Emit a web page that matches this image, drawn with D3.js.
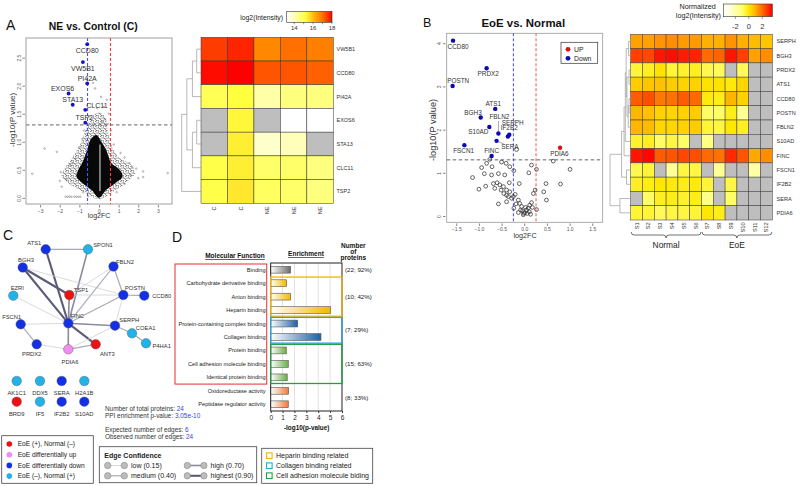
<!DOCTYPE html>
<html><head><meta charset="utf-8">
<script src="https://cdn.jsdelivr.net/npm/d3@7/dist/d3.min.js"></script>
<style>html,body{margin:0;padding:0;background:#fff;}svg{display:block;}</style>
</head><body>
<svg id="fig" width="800" height="486"></svg>
<script>
// ======================= DATA =======================
// Panel A volcano (NE vs. Control)
const volcanoAXTicks = [-3,-2,-1,0,1,2,3];
const volcanoAYTicks = [0,0.5,1,1.5,2,2.5];
const volcanoAGenes = ["CCD80","VW5B1","PI42A","EXOS6","STA13","CLC11","TSP2"];
const volcanoAFC    = [-0.60,-0.82,-0.60,-1.55,-1.34,-0.70,-0.70];
const volcanoAP     = [2.74,2.42,2.04,1.86,1.66,1.57,1.34];
const volcanoACore  = [[0,0],[0.36,0.14],[0.82,0.26],[1.2,0.38],[1.05,0.5],[0.62,0.62],[0.48,0.74],[0.36,0.86],[0.12,1.0],[-0.15,1.12],[-0.46,1.02],[-0.59,0.86],[-0.72,0.74],[-0.86,0.62],[-1.05,0.5],[-1.15,0.38],[-0.84,0.26],[-0.37,0.14]];
const volcanoAHalo  = [[0,-0.03],[0.6,0.08],[1.4,0.28],[1.85,0.45],[1.6,0.6],[1.0,0.72],[0.62,0.95],[0.45,1.2],[0.3,1.45],[0.0,1.52],[-0.35,1.45],[-0.6,1.28],[-0.9,1.0],[-1.3,0.75],[-1.7,0.55],[-1.9,0.38],[-1.3,0.2],[-0.6,0.07]];
const volcanoAOther = [[-3.4,0.43],[-2.78,0.88],[-2.15,0.82],[-1.95,0.46],[-1.65,0.34],[-1.5,0.58],[-1.35,0.62],[-1.2,0.7],[-1.0,0.9],[-0.85,1.05],[-0.75,1.2],[-0.5,1.45],[-0.3,2.05],[-0.2,1.95],[0.25,1.62],[0.4,1.75],[0.5,1.5],[0.3,1.4],[0.15,1.35],[0.45,1.32],[-0.1,1.6],[0.1,1.8],[0.6,1.2],[0.75,0.95],[1.1,0.8],[1.3,0.72],[1.55,0.62],[1.7,0.55],[1.9,0.52],[2.25,0.47],[2.25,0.37],[3.5,0.44],[1.6,0.4],[-1.7,0.02],[-1.6,0.02],[-1.5,0.02],[-1.4,0.02],[-1.25,0.02],[-1.15,0.02],[-1.05,0.02],[-0.95,0.02],[-0.55,0.03],[-0.8,0.1],[-1.9,0.2],[1.3,0.25],[0.9,0.1],[-2.0,0.3],[2.0,0.35]];
const volcanoACutFC = 0.585, volcanoACutP = 1.3;

// Panel A heatmap
const heatARows = ["VW5B1","CCD80","PI42A","EXOS6","STA13","CLC11","TSP2"];
const heatACols = ["C","C","NE","NE","NE"];
const heatAValues = [
  [17.5,17.7,16.7,17.0,16.8],
  [17.9,18.0,17.3,17.3,17.2],
  [15.0,15.2,14.2,14.6,14.6],
  [null,15.3,null,13.2,13.2],
  [null,15.4,13.8,14.0,null],
  [15.1,15.4,14.8,14.8,14.6],
  [15.1,15.5,14.9,14.8,14.6]];
const heatALegendTicks = [14,16,18];
const heatADendro = [[0,1,1],[7,2,2],[3,4,1],[9,5,2],[8,10,3.3],[11,6,4.5]];

// Panel B volcano (EoE vs. Normal)
const volcanoBXTicks = [-1.5,-1,-0.5,0,0.5,1,1.5];
const volcanoBYTicks = [0,1,2,3,4];
const volcanoBGenes = ["CCD80","PRDX2","POSTN","ATS1","BGH3","S10AD","FBLN2","SERPH","IF2B2","SERA","FSCN1","FINC","PDIA6"];
const volcanoBFC    = [-1.57,-0.83,-1.58,-0.64,-0.96,-0.77,-0.57,-0.33,-0.36,-0.61,-1.32,-0.72,0.79];
const volcanoBP     = [4.06,3.42,3.01,2.48,2.28,2.06,1.91,1.88,1.84,1.74,1.64,1.39,1.58];
const volcanoBDir   = ["Down","Down","Down","Down","Down","Down","Down","Down","Down","Down","Down","Down","UP"];
const volcanoBOther = [[-0.17,1.54],[-0.76,1.31],[-0.83,1.22],[-0.94,1.12],[-0.88,0.98],[-1.14,0.89],[-0.71,1.14],[-0.57,0.98],[-0.72,0.95],[-0.5,1.25],[-0.4,1.22],[-0.32,1.14],[-0.23,1.05],[-0.43,0.95],[-0.33,0.77],[-0.11,0.75],[0.16,1.18],[0.27,1.08],[0.10,1.0],[0.64,1.27],[1.01,1.08],[0.80,0.74],[0.48,0.75],[0.43,0.56],[0.49,0.37],[0.24,0.6],[0.20,0.52],[-1.0,0.62],[-0.85,0.69],[-0.68,0.75],[-0.6,0.77],[-0.54,0.72],[-0.46,0.68],[-0.65,0.64],[-0.51,0.6],[-0.39,0.6],[-0.32,0.56],[-0.39,0.48],[-0.24,0.45],[-0.57,0.28],[-0.39,0.33],[-0.23,0.18],[-0.13,0.37],[-0.1,0.29],[-0.06,0.22],[-0.08,0.14],[-0.13,0.08],[-0.04,0.12],[0.01,0.08],[0.05,0.14],[0.09,0.18],[0.12,0.25],[0.16,0.31],[-0.01,0.06],[0.07,0.06],[0.11,0.1],[0.18,0.2],[0.27,0.15],[-0.18,0.28],[-0.28,0.41],[-0.35,0.45],[-0.45,0.52],[-0.2,0.5],[0.03,0.2],[-0.02,0.03],[0.14,0.04]];
const volcanoBCutLow = -0.24, volcanoBCutHigh = 0.26, volcanoBCutP = 1.3;

// Panel B heatmap
const heatBRows = ["SERPH","BGH3","PRDX2","ATS1","CCD80","POSTN","FBLN2","S10AD","FINC","FSCN1","IF2B2","SERA","PDIA6"];
const heatBCols = ["S1","S2","S3","S4","S5","S6","S7","S8","S9","S10","S11","S12"];
const heatBGroups = ["Normal","Normal","Normal","Normal","Normal","Normal","EoE","EoE","EoE","EoE","EoE","EoE"];
const heatBValues = [
  [1.2,1.2,1.4,1.5,1.3,1.3,1.0,1.0,1.4,1.0,0.8,0.6],
  [2.6,2.5,3.2,3.3,3.1,3.0,2.0,2.1,3.2,2.6,1.2,1.5],
  [-0.5,-0.3,0.1,-0.5,-0.4,-0.3,-0.7,-0.8,null,-0.8,null,null],
  [0.5,0.6,0.7,0.5,0.4,0.4,0.1,0.1,-0.1,0.3,null,null],
  [2.2,2.4,1.8,1.9,2.2,2.0,-0.1,-0.2,0.9,0.4,null,null],
  [0.9,0.7,0.4,0.3,0.4,0.5,-0.9,-0.9,-0.2,-1.6,null,null],
  [0.9,0.8,0.3,0.3,0.4,0.5,-0.5,-0.6,0.0,-0.3,null,null],
  [-0.4,-0.3,-0.9,-0.6,-0.9,null,-1.3,null,null,null,null,null],
  [3.2,3.4,2.2,2.3,2.5,2.4,2.0,1.9,2.9,2.3,1.1,1.5],
  [-0.7,-0.5,null,-1.7,-0.6,-0.6,null,-1.6,null,null,-1.9,null],
  [-0.3,-0.2,0.0,-0.1,-0.2,-0.1,-0.5,null,-0.6,null,null,null],
  [null,-0.9,-0.3,-0.2,-0.4,-0.2,-1.4,null,-0.9,null,null,null],
  [-0.5,-0.5,-0.8,-0.6,-0.6,-0.5,0.0,-0.2,null,null,null,null]];
const heatBLegendTicks = [-2,0,2];
const heatBDendro = [[0,1,0.5],[2,3,0.4],[4,5,0.4],[15,6,0.6],[14,16,0.9],[13,17,1.1],[18,7,1.3],[19,8,1.6],[9,10,1.0],[20,21,2.2],[11,12,2.6],[22,23,5]];

// Panel C network
const netNodes  = ["ATS1","SPON1","BGH3","FBLN2","EZRI","TSP1","POSTN","CCD80","FSCN1","FINC","SERPH","COEA1","P4HA1","PRDX2","PDIA6","ANT3","AK1C1","DDX5","SERA","H2A1B","BRD9","IF5","IF2B2","S10AD"];
const netGroups = ["down","neg","down","down","neg","pos","down","down","down","down","down","neg","neg","down","up","pos","neg","neg","down","neg","pos","neg","down","down"];
const netEdges = [
  ["ATS1","SPON1","medium"],["ATS1","FINC","highest"],["SPON1","FINC","high"],
  ["BGH3","TSP1","highest"],["BGH3","FINC","highest"],["BGH3","POSTN","low"],
  ["FBLN2","TSP1","low"],["FBLN2","FINC","medium"],["FBLN2","POSTN","medium"],
  ["TSP1","POSTN","low"],["TSP1","FINC","high"],["POSTN","CCD80","medium"],
  ["POSTN","FINC","medium"],["POSTN","SERPH","low"],["EZRI","FINC","low"],
  ["FSCN1","FINC","low"],["FSCN1","PRDX2","medium"],["FINC","SERPH","high"],
  ["FINC","PDIA6","high"],["FINC","ANT3","highest"],["SERPH","PDIA6","low"],
  ["SERPH","COEA1","medium"],["COEA1","P4HA1","medium"],["PRDX2","PDIA6","low"],
  ["PDIA6","ANT3","medium"]];
const netStats = {total:"24", pvalue:"3.05e-10", expected:"6", observed:"24"};
const netGroupLegend = ["EoE (+), Normal (\u2013)","EoE differentially up","EoE differentially down","EoE (\u2013), Normal (+)"];
const netGroupKeys = ["pos","up","down","neg"];
const edgeLevels = ["low","medium","high","highest"];
const edgeLevelLabels = ["low (0.15)","medium (0.40)","high (0.70)","highest (0.90)"];

// Panel D GO enrichment
const goTerms = ["Binding","Carbohydrate derivative binding","Anion binding","Heparin binding","Protein-containing complex binding","Collagen binding","Protein binding","Cell adhesion molecule binding","Identical protein binding","Oxidoreductase activity","Peptidase regulator activity"];
const goEnrichment = [1.68,1.34,1.68,5.04,2.27,4.23,1.31,1.48,1.39,1.51,1.48];
const goGroup = ["all","heparin","heparin","heparin","collagen","collagen","adhesion","adhesion","adhesion","other","other"];
const goCountLabels = ["(22; 92%)","(10; 42%)","(7; 29%)","(15; 63%)","(8; 33%)"];
const goCountGroups = ["all","heparin","collagen","adhesion","other"];
const goXTicks = [0,1,2,3,4,5,6];
const goBoxLegend = ["Heparin binding related","Collagen binding related","Cell adhesion molecule biding"];

// ======================= LAYOUT / STYLE =======================
const F = "'Liberation Sans', Arial, Helvetica, sans-serif";
const svg = d3.select("#fig");
const defs = svg.append("defs");
function T(g,x,y,s,o={}){
  const t=g.append("text").attr("x",x).attr("y",y).attr("font-family",F)
    .attr("font-size",o.size||6).attr("fill",o.fill||"#222")
    .attr("text-anchor",o.anchor||"start");
  if(o.weight) t.attr("font-weight",o.weight);
  if(o.rotate!=null) t.attr("transform",`rotate(${o.rotate},${x},${y})`);
  if(o.dy) t.attr("dy",o.dy);
  if(o.deco) t.attr("text-decoration",o.deco);
  t.text(s);
  return t;
}
function dendro(g, merges, n, leafPos, hx){
  const pos=d3.range(n).map(i=>({y:leafPos(i),h:0}));
  merges.forEach(([a,b,h])=>{
    const A=pos[a],B=pos[b],xx=hx(h);
    g.append("path").attr("d",`M${hx(A.h)},${A.y}H${xx}V${B.y}H${hx(B.h)}`)
      .attr("fill","none").attr("stroke","#9a9a9a").attr("stroke-width",0.7);
    pos.push({y:(A.y+B.y)/2,h});
  });
}
function gradient(id, scale, dom){
  const lg=defs.append("linearGradient").attr("id",id).attr("x1","0").attr("x2","1").attr("y1","0").attr("y2","0");
  d3.range(0,1.0001,0.05).forEach(t=>lg.append("stop").attr("offset",t).attr("stop-color",scale(dom[0]+t*(dom[1]-dom[0]))));
}

// ---- Panel letters
T(svg,6,30,"A",{size:14,fill:"#111"});
T(svg,423,27.3,"B",{size:12.5,fill:"#111"});
T(svg,3,240,"C",{size:14,fill:"#111"});
T(svg,172,241.5,"D",{size:14,fill:"#111"});

// ======================= PANEL A VOLCANO =======================
{
  const g=svg.append("g");
  const x=d3.scaleLinear().domain([-3.72,3.72]).range([26,172]);
  const y=d3.scaleLinear().domain([-0.11,2.85]).range([204,38]);
  T(g,93.3,29.5,"NE vs. Control (C)",{size:10.4,weight:"bold",anchor:"middle",fill:"#111"});
  // irregular speckle texture for the sparse halo of the point cloud
  const pat=defs.append("pattern").attr("id","dotsA").attr("patternUnits","userSpaceOnUse").attr("width",5).attr("height",5);
  [[0.8,1.2],[3.1,0.6],[2.0,3.0],[4.2,3.6],[0.6,4.1],[3.6,2.0],[1.6,0.2]].forEach(p=>pat.append("circle").attr("cx",p[0]).attr("cy",p[1]).attr("r",0.55).attr("fill","#333"));
  const ln=d3.line().x(d=>x(d[0])).y(d=>y(d[1])).curve(d3.curveCatmullRomClosed.alpha(0.5));
  g.append("path").attr("d",ln(volcanoAHalo)).attr("fill","url(#dotsA)");
  g.append("path").attr("d",ln(volcanoACore)).attr("fill","#080808");
  g.selectAll(null).data(volcanoAOther).join("circle").attr("cx",d=>x(d[0])).attr("cy",d=>y(d[1]))
    .attr("r",0.8).attr("fill","none").attr("stroke","#666").attr("stroke-width",0.45);
  g.append("line").attr("x1",x(0.05)).attr("x2",x(0.05)).attr("y1",y(0.12)).attr("y2",y(0.95)).attr("stroke","#fff").attr("stroke-width",0.9);
  g.append("line").attr("x1",x(-volcanoACutFC)).attr("x2",x(-volcanoACutFC)).attr("y1",38).attr("y2",204).attr("stroke","#5050ff").attr("stroke-width",1.1).attr("stroke-dasharray","3,2");
  g.append("line").attr("x1",x(volcanoACutFC)).attr("x2",x(volcanoACutFC)).attr("y1",38).attr("y2",204).attr("stroke","#ff3b3b").attr("stroke-width",1.1).attr("stroke-dasharray","3,2");
  g.append("line").attr("x1",26).attr("x2",172).attr("y1",y(volcanoACutP)).attr("y2",y(volcanoACutP)).attr("stroke","#555").attr("stroke-width",0.9).attr("stroke-dasharray","3.5,2.5");
  const labOff={CCD80:[0,6],VW5B1:[0,6],PI42A:[0,-5],EXOS6:[-6,-5],STA13:[0,-5],CLC11:[11.7,-4.4],TSP2:[-1,-5]};
  volcanoAGenes.forEach((gn,i)=>{
    const px=x(volcanoAFC[i]),py=y(volcanoAP[i]);
    g.append("circle").attr("cx",px).attr("cy",py).attr("r",1.9).attr("fill","#1010d0");
    T(g,px+labOff[gn][0],py+labOff[gn][1],gn,{size:7,anchor:"middle",dy:"0.35em",fill:"#333"});
  });
  g.append("rect").attr("x",26).attr("y",38).attr("width",146).attr("height",166).attr("fill","none").attr("stroke","#888").attr("stroke-width",0.8);
  const ax=g.append("g").attr("transform","translate(0,205)").call(d3.axisBottom(x).tickValues(volcanoAXTicks).tickSize(2.5).tickPadding(1.5).tickFormat(d3.format("d")));
  ax.select(".domain").remove();
  ax.selectAll("text").attr("font-size",5).attr("fill","#555").attr("font-family",F);
  ax.selectAll("line").attr("stroke","#888");
  const ay=g.append("g").attr("transform","translate(25,0)").call(d3.axisLeft(y).tickValues(volcanoAYTicks).tickSize(2.5).tickFormat(d3.format(".1f")));
  ay.select(".domain").remove();
  ay.selectAll("line").attr("stroke","#888");
  ay.selectAll("text").attr("font-size",5).attr("fill","#555").attr("font-family",F)
    .attr("transform","rotate(-90)").attr("text-anchor","middle").attr("x",0).attr("y",-4.2).attr("dy","0");
  T(g,99,218,"log2FC",{size:7,anchor:"middle",fill:"#333"});
  T(g,14.5,120,"-log10(P value)",{size:8,anchor:"middle",rotate:-90,fill:"#333"});
}

// ======================= PANEL A HEATMAP =======================
{
  const g=svg.append("g");
  const col=d3.scaleLinear().domain([13.2,14.2,15.2,16.2,17.2,18]).range(["#ffffff","#ffffa8","#ffff40","#ffb000","#ff6000","#ff0000"]).clamp(true);
  const hx=d3.scaleBand().domain(d3.range(heatACols.length)).range([201,333.3]);
  const hy=d3.scaleBand().domain(heatARows).range([37.3,203.3]);
  heatAValues.forEach((row,r)=>row.forEach((v,c)=>{
    g.append("rect").attr("x",hx(c)).attr("y",hy(heatARows[r])).attr("width",hx.bandwidth()).attr("height",hy.bandwidth())
      .attr("fill",v==null?"#bebebe":col(v)).attr("stroke","#333").attr("stroke-width",0.5);
  }));
  heatARows.forEach(r=>T(g,336.5,hy(r)+hy.bandwidth()/2,r,{size:5.5,dy:"0.35em",fill:"#333"}));
  heatACols.forEach((c,i)=>T(g,hx(i)+hx.bandwidth()/2+2,206.5,c,{size:5.5,anchor:"end",rotate:-90,fill:"#333"}));
  dendro(g,heatADendro,heatARows.length,i=>hy(heatARows[i])+hy.bandwidth()/2,d3.scaleLinear().domain([0,4.5]).range([201,181.7]));
  const lx=d3.scaleLinear().domain([13.2,18]).range([286.7,332]);
  gradient("gradA",col,[13.2,18]);
  T(g,283,20,"log2(Intensity)",{size:6.8,anchor:"end",fill:"#222"});
  g.append("rect").attr("x",286.7).attr("y",11.3).attr("width",45.3).attr("height",11).attr("fill","url(#gradA)").attr("stroke","#333").attr("stroke-width",0.6);
  [14,15,16,17,18].forEach(t=>g.append("line").attr("x1",lx(t)).attr("x2",lx(t)).attr("y1",22.3).attr("y2",24.3).attr("stroke","#333").attr("stroke-width",0.5));
  heatALegendTicks.forEach(t=>T(g,lx(t),29.8,String(t),{size:6,anchor:"middle",fill:"#333"}));
}

// ======================= PANEL B VOLCANO =======================
{
  const g=svg.append("g");
  const x=d3.scaleLinear().domain([-1.71,1.73]).range([446.7,602.7]);
  const y=d3.scaleLinear().domain([-0.146,4.23]).range([222.3,33.3]);
  T(g,523.3,26.5,"EoE vs. Normal",{size:11.4,weight:"bold",anchor:"middle",fill:"#111"});
  g.append("rect").attr("x",446.7).attr("y",33.3).attr("width",156).attr("height",189).attr("fill","#fff").attr("stroke","#999").attr("stroke-width",0.8);
  g.append("line").attr("x1",x(volcanoBCutLow)).attr("x2",x(volcanoBCutLow)).attr("y1",33.3).attr("y2",222.3).attr("stroke","#4646e6").attr("stroke-width",1).attr("stroke-dasharray","3,2");
  g.append("line").attr("x1",x(volcanoBCutHigh)).attr("x2",x(volcanoBCutHigh)).attr("y1",33.3).attr("y2",222.3).attr("stroke","#f07070").attr("stroke-width",1.2).attr("stroke-dasharray","3,2");
  g.append("line").attr("x1",446.7).attr("x2",602.7).attr("y1",y(volcanoBCutP)).attr("y2",y(volcanoBCutP)).attr("stroke","#555").attr("stroke-width",0.9).attr("stroke-dasharray","3.5,2.5");
  g.selectAll(null).data(volcanoBOther).join("circle").attr("cx",d=>x(d[0])).attr("cy",d=>y(d[1]))
    .attr("r",1.9).attr("fill","none").attr("stroke","#333").attr("stroke-width",0.75);
  const labOff={CCD80:[5,6.6],PRDX2:[1.6,5.7],POSTN:[5.6,-5.3],ATS1:[-2,-5],BGH3:[-7.7,-4.4],S10AD:[-11,5],FBLN2:[1,-16.6],SERPH:[3.4,-12.4],IF2B2:[1.3,-8.7],SERA:[13.3,6],FSCN1:[-0.7,5.7],FINC:[0,-5.3],PDIA6:[-0.7,5.6]};
  const leaders={FBLN2:true,SERA:true};
  volcanoBGenes.forEach((gn,i)=>{
    const px=x(volcanoBFC[i]),py=y(volcanoBP[i]);
    const o=labOff[gn];
    if(leaders[gn]){
      g.append("line").attr("x1",px).attr("y1",py).attr("x2",px+o[0]*(gn==="SERA"?0.6:0.1)).attr("y2",py+o[1]*(gn==="SERA"?0.6:0.75)).attr("stroke","#555").attr("stroke-width",0.5);
    }
    g.append("circle").attr("cx",px).attr("cy",py).attr("r",2.2).attr("fill",volcanoBDir[i]==="UP"?"#e01010":"#0a0ab4");
    T(g,px+o[0],py+o[1],gn,{size:6.4,anchor:"middle",dy:"0.35em",fill:"#333"});
  });
  g.append("rect").attr("x",561).attr("y",42.3).attr("width",36.7).attr("height",21).attr("fill","#fff").attr("stroke","#333").attr("stroke-width",0.7);
  ["UP","Down"].forEach((k,i)=>{
    g.append("circle").attr("cx",568).attr("cy",49.3+i*9).attr("r",2.4).attr("fill",k==="UP"?"#e01010":"#0a0ab4");
    T(g,574,49.3+i*9,k,{size:6.8,dy:"0.35em",fill:"#222"});
  });
  const ax=g.append("g").attr("transform","translate(0,223.5)").call(d3.axisBottom(x).tickValues(volcanoBXTicks).tickSize(2.5).tickPadding(1.5).tickFormat(d3.format(".1f")));
  ax.select(".domain").remove();
  ax.selectAll("text").attr("font-size",5).attr("fill","#555").attr("font-family",F);
  ax.selectAll("line").attr("stroke","#888");
  const ay=g.append("g").attr("transform","translate(445.5,0)").call(d3.axisLeft(y).tickValues(volcanoBYTicks).tickSize(2.5).tickFormat(d3.format("d")));
  ay.select(".domain").remove();
  ay.selectAll("line").attr("stroke","#888");
  ay.selectAll("text").attr("font-size",5).attr("fill","#555").attr("font-family",F)
    .attr("transform","rotate(-90)").attr("text-anchor","middle").attr("x",0).attr("y",-4.2).attr("dy","0");
  T(g,525,238,"log2FC",{size:7.2,anchor:"middle",fill:"#333"});
  T(g,436,130,"-log10(P value)",{size:9.2,anchor:"middle",rotate:-90,fill:"#333"});
}

// ======================= PANEL B HEATMAP =======================
{
  const g=svg.append("g");
  const col=d3.scaleLinear().domain([-3.8,-2.5,-1,0,1,2,3.5]).range(["#ffffff","#ffffc8","#ffff70","#ffe800","#ffb000","#ff6a00","#ff0000"]).clamp(true);
  const hx=d3.scaleBand().domain(heatBCols).range([630.7,772.3]);
  const hy=d3.scaleBand().domain(heatBRows).range([34.3,220]);
  heatBValues.forEach((row,r)=>row.forEach((v,c)=>{
    g.append("rect").attr("x",hx(heatBCols[c])).attr("y",hy(heatBRows[r])).attr("width",hx.bandwidth()).attr("height",hy.bandwidth())
      .attr("fill",v==null?"#bebebe":col(v)).attr("stroke","#444").attr("stroke-width",0.55);
  }));
  heatBRows.forEach(r=>T(g,776.5,hy(r)+hy.bandwidth()/2,r,{size:5.6,dy:"0.35em",fill:"#333"}));
  heatBCols.forEach(c=>T(g,hx(c)+hx.bandwidth()/2+2,222.5,c,{size:5.6,anchor:"end",rotate:-90,fill:"#333"}));
  dendro(g,heatBDendro,heatBRows.length,i=>hy(heatBRows[i])+hy.bandwidth()/2,d3.scaleLinear().domain([0,5]).range([630.7,610]));
  const groups=[...new Set(heatBGroups)];
  groups.forEach(gr=>{
    const cols=heatBCols.filter((c,i)=>heatBGroups[i]===gr);
    const x1=hx(cols[0])+0.5, x2=hx(cols[cols.length-1])+hx.bandwidth()-0.5, xm=(x1+x2)/2, y0=232, d=6;
    g.append("path").attr("d",`M${x1},${y0}Q${x1},${y0+d/2} ${x1+d/2},${y0+d/2}L${xm-d/2},${y0+d/2}Q${xm},${y0+d/2} ${xm},${y0+d}Q${xm},${y0+d/2} ${xm+d/2},${y0+d/2}L${x2-d/2},${y0+d/2}Q${x2},${y0+d/2} ${x2},${y0}`)
      .attr("fill","none").attr("stroke","#333").attr("stroke-width",0.7);
    T(g,xm,248,gr,{size:8.4,anchor:"middle",fill:"#222"});
  });
  const lx=d3.scaleLinear().domain([-3.8,3.5]).range([723.3,772.3]);
  gradient("gradB",col,[-3.8,3.5]);
  T(g,697.7,8.6,"Normalized",{size:7.2,anchor:"middle",fill:"#222"});
  T(g,721,17.6,"log2(Intensity)",{size:7.2,anchor:"end",fill:"#222"});
  g.append("rect").attr("x",723.3).attr("y",4).attr("width",49).attr("height",12.7).attr("fill","url(#gradB)").attr("stroke","#333").attr("stroke-width",0.6);
  heatBLegendTicks.forEach(t=>{
    g.append("line").attr("x1",lx(t)).attr("x2",lx(t)).attr("y1",16.7).attr("y2",19).attr("stroke","#333").attr("stroke-width",0.5);
    T(g,lx(t),28.6,String(t),{size:7.5,anchor:"middle",fill:"#333"});
  });
}

// ======================= PANEL C NETWORK =======================
{
  const g=svg.append("g");
  const nx=d3.scaleLinear().domain([0,160]).range([0,160]);
  const ny=d3.scaleLinear().domain([0,160]).range([240,400]);
  const layoutX=[45.7,88,22.7,113.5,13.3,69.3,123.3,144.3,20.7,68.3,115,132,146,36.7,68.3,95.7,16.7,40,61.7,84.3,16.7,40,61.7,84.3];
  const layoutY=[9.3,9.3,27.5,26.5,55.7,55,55,55.7,84.3,83.3,85.7,93.3,103.3,104.3,109.3,104.3,141,141,141,141,161.7,161.7,161.7,161.7];
  const labelDX={ATS1:-11.4,SPON1:15,BGH3:3.3,FBLN2:11.5,EZRI:4,TSP1:11.7,POSTN:11.7,CCD80:17.4,FSCN1:-9,FINC:9,SERPH:14.3,COEA1:13.7,P4HA1:15.7,PRDX2:-5,PDIA6:1.7,ANT3:11.6};
  const labelDY={ATS1:-6,SPON1:-4,BGH3:-7.5,FBLN2:-5,EZRI:-7.4,TSP1:-5,POSTN:-6.7,CCD80:0.6,FSCN1:-7.6,FINC:-7.6,SERPH:-5.7,COEA1:-5,P4HA1:2.7,PRDX2:10,PDIA6:12.4,ANT3:9.4};
  const groupColor={pos:"#ee1111",up:"#f28cf0",down:"#1430e6",neg:"#22b2ea"};
  const edgeStyle={low:{c:"#d0d0d0",w:0.8},medium:{c:"#a9a9b8",w:1.2},high:{c:"#8a8aa2",w:1.6},highest:{c:"#5c5c7a",w:2.1}};
  const P={};
  netNodes.forEach((n,i)=>P[n]=[nx(layoutX[i]),ny(layoutY[i])]);
  netEdges.forEach(([a,b,l])=>{
    g.append("line").attr("x1",P[a][0]).attr("y1",P[a][1]).attr("x2",P[b][0]).attr("y2",P[b][1])
      .attr("stroke",edgeStyle[l].c).attr("stroke-width",edgeStyle[l].w);
  });
  netNodes.forEach((n,i)=>{
    g.append("circle").attr("cx",P[n][0]).attr("cy",P[n][1]).attr("r",4.8).attr("fill",groupColor[netGroups[i]]).attr("stroke","#555").attr("stroke-width",0.4);
    const dx = labelDX[n]!=null?labelDX[n]:0;
    const dy = labelDY[n]!=null?labelDY[n]:(layoutY[i]<150?11.7:12.3);
    T(g,P[n][0]+dx,P[n][1]+dy,n,{size:5.8,anchor:"middle",dy:"0.35em",fill:"#333"});
  });
  const st=[["Number of total proteins: ",netStats.total,410.5],["PPI enrichment p-value: ",netStats.pvalue,418.3],["Expected number of edges: ",netStats.expected,431.5],["Observed number of edges: ",netStats.observed,439]];
  st.forEach(([a,b,yy])=>{
    const t=T(g,105,yy,a,{size:6.4,fill:"#333"});
    t.append("tspan").attr("fill","#3344dd").text(b);
  });
  g.append("rect").attr("x",1.7).attr("y",435.7).attr("width",91.6).attr("height",47.6).attr("fill","#fff").attr("stroke","#444").attr("stroke-width",0.8);
  netGroupKeys.forEach((k,i)=>{
    const yy=444+i*10.7;
    g.append("circle").attr("cx",9.3).attr("cy",yy).attr("r",2.8).attr("fill",groupColor[k]);
    T(g,17.7,yy,netGroupLegend[i],{size:6.6,dy:"0.35em",fill:"#222"});
  });
  g.append("rect").attr("x",99.3).attr("y",446.7).attr("width",157.4).attr("height",36).attr("fill","#fff").attr("stroke","#444").attr("stroke-width",0.8);
  T(g,104.3,457.5,"Edge Confidence",{size:7,weight:"bold",fill:"#222"});
  edgeLevels.forEach((l,i)=>{
    const bx=i<2?107.7:187.3, yy=i%2===0?465.5:475.8;
    g.append("line").attr("x1",bx).attr("x2",bx+16.6).attr("y1",yy).attr("y2",yy).attr("stroke",edgeStyle[l].c).attr("stroke-width",edgeStyle[l].w);
    [bx,bx+16.6].forEach(cx=>g.append("circle").attr("cx",cx).attr("cy",yy).attr("r",3.2).attr("fill","#bdbdbd").attr("stroke","#7a7a7a").attr("stroke-width",0.5));
    T(g,bx+23.3,yy,edgeLevelLabels[i],{size:7,dy:"0.35em",fill:"#222"});
  });
}

// ======================= PANEL D GO ENRICHMENT =======================
{
  const g=svg.append("g");
  const yD=d3.scalePoint().domain(goTerms).range([263,411]).padding(0.5);
  const step=yD.step();
  const xD=d3.scaleLinear().domain([0,6]).range([270.7,342]);
  const fillEnd={all:"#6a6a6a",heparin:"#f2b800",collagen:"#1f5fa8",adhesion:"#68b048",other:"#ee7a3c"};
  const boxCol={heparin:"#f4b400",collagen:"#22a8e0",adhesion:"#20a045"};
  Object.keys(fillEnd).forEach(k=>{
    const lg=defs.append("linearGradient").attr("id","go_"+k).attr("x1","0").attr("x2","1").attr("y1","0").attr("y2","0");
    lg.append("stop").attr("offset",0).attr("stop-color","#ffffff");
    lg.append("stop").attr("offset",1).attr("stop-color",fillEnd[k]);
  });
  T(g,235,258,"Molecular Function",{size:6.5,weight:"bold",anchor:"middle",deco:"underline",fill:"#111"});
  T(g,306,256,"Enrichment",{size:6.5,weight:"bold",anchor:"middle",deco:"underline",fill:"#111"});
  T(g,353.3,248,"Number",{size:6.5,weight:"bold",anchor:"middle",fill:"#111"});
  T(g,353.3,253.5,"of",{size:6.5,weight:"bold",anchor:"middle",fill:"#111"});
  T(g,353.3,259.5,"proteins",{size:6.5,weight:"bold",anchor:"middle",fill:"#111"});
  goXTicks.slice(1,-1).forEach(t=>g.append("line").attr("x1",xD(t)).attr("x2",xD(t)).attr("y1",263).attr("y2",411).attr("stroke","#cfcfcf").attr("stroke-width",0.6));
  goTerms.forEach((t,i)=>{
    g.append("rect").attr("x",xD(0)).attr("y",yD(t)-3.4).attr("width",xD(goEnrichment[i])-xD(0)).attr("height",6.8)
      .attr("fill",`url(#go_${goGroup[i]})`).attr("stroke","#555").attr("stroke-width",0.6);
    T(g,265.5,yD(t),t,{size:5.6,anchor:"end",dy:"0.35em",fill:"#222"});
  });
  g.append("rect").attr("x",xD(0)).attr("y",263).attr("width",xD(6)-xD(0)).attr("height",148).attr("fill","none").attr("stroke","#222").attr("stroke-width",1);
  ["heparin","collagen","adhesion"].forEach(k=>{
    const idx=goGroup.map((d,i)=>d===k?i:-1).filter(i=>i>=0);
    const y1=yD(goTerms[idx[0]])-step/2+0.6, y2=yD(goTerms[idx[idx.length-1]])+step/2-0.6;
    g.append("rect").attr("x",xD(0)).attr("y",y1).attr("width",xD(6)-xD(0)).attr("height",y2-y1).attr("fill","none").attr("stroke",boxCol[k]).attr("stroke-width",1.3);
  });
  const lastBind=goTerms[8];
  g.append("rect").attr("x",175).attr("y",264).attr("width",91.7).attr("height",yD(lastBind)+step/2-264).attr("fill","none").attr("stroke","#e84040").attr("stroke-width",1.1);
  goCountGroups.forEach((k,i)=>{
    const idx=goGroup.map((d,j)=>d===k?j:-1).filter(j=>j>=0);
    const yy=(yD(goTerms[idx[0]])+yD(goTerms[idx[idx.length-1]]))/2;
    T(g,345,yy,goCountLabels[i],{size:6.2,dy:"0.35em",fill:"#222"});
  });
  const ax=g.append("g").attr("transform","translate(0,411)").call(d3.axisBottom(xD).tickValues(goXTicks).tickSize(2).tickPadding(2).tickFormat(d3.format("d")));
  ax.select(".domain").remove();
  ax.selectAll("text").attr("font-size",6.5).attr("fill","#222").attr("font-family",F);
  ax.selectAll("line").attr("stroke","#333");
  T(g,306.7,429.8,"-log10(p-value)",{size:6.4,weight:"bold",anchor:"middle",fill:"#111"});
  g.append("rect").attr("x",261.7).attr("y",448.3).attr("width",111).attr("height",35).attr("fill","#fff").attr("stroke","#444").attr("stroke-width",0.8);
  ["heparin","collagen","adhesion"].forEach((k,i)=>{
    const yy=455.7+i*10;
    g.append("rect").attr("x",266.5).attr("y",yy-2.8).attr("width",5.6).attr("height",5.6).attr("fill","#fff").attr("stroke",boxCol[k]).attr("stroke-width",1.1);
    T(g,276,yy,goBoxLegend[i],{size:7,dy:"0.35em",fill:"#222"});
  });
}
</script>
</body></html>
